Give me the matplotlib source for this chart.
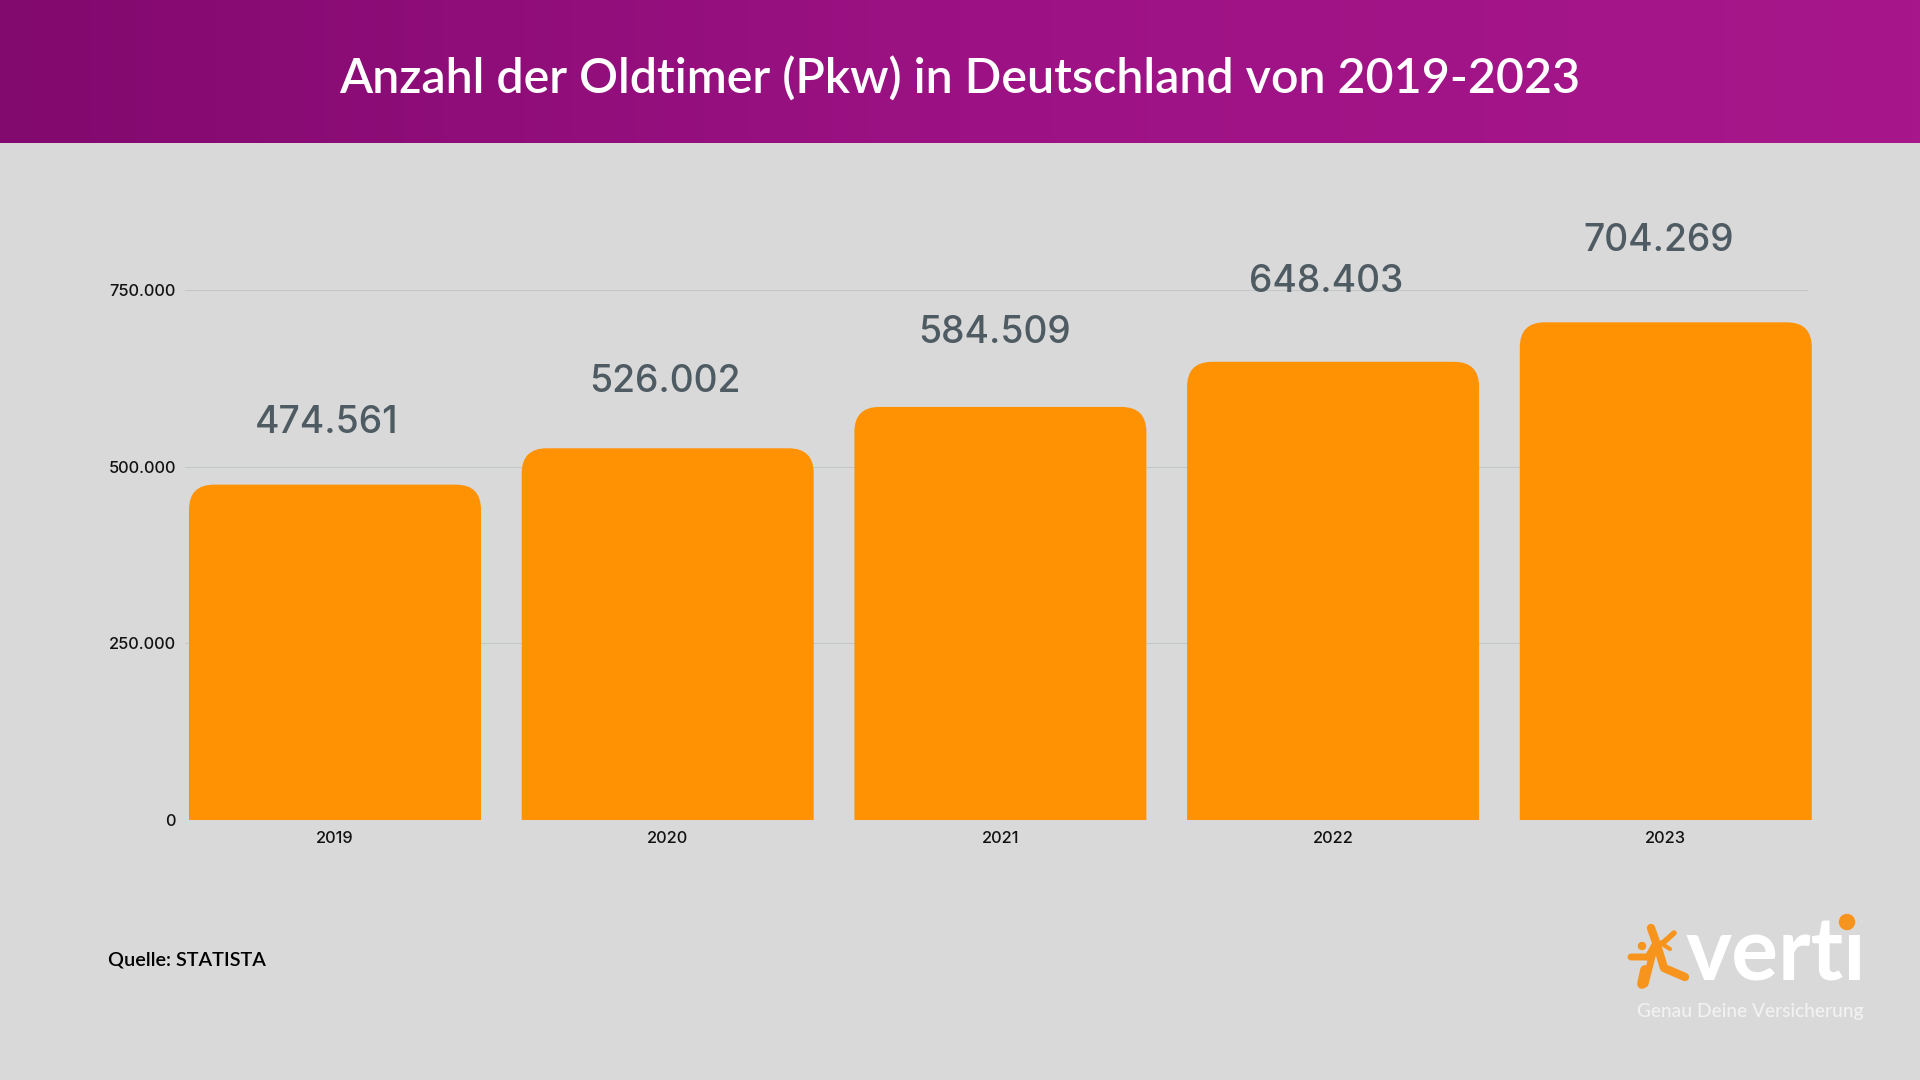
import matplotlib
matplotlib.use('Agg')
import matplotlib.pyplot as plt
import numpy as np
from matplotlib.colors import LinearSegmentedColormap
from matplotlib.patches import Circle, PathPatch, Rectangle
from matplotlib.path import Path

# daten
jahre = ['2019', '2020', '2021', '2022', '2023']
anzahl = [474561, 526002, 584509, 648403, 704269]
wert_labels = ['474.561', '526.002', '584.509', '648.403', '704.269']
y_ticks = [0, 250000, 500000, 750000]
y_tick_labels = ['0', '250.000', '500.000', '750.000']

titel = 'Anzahl der Oldtimer (Pkw) in Deutschland von 2019-2023'
quelle = 'Quelle: STATISTA'

# abstand der werte ueber den balken, in pixel (im original nicht einheitlich)
label_dy = [62, 66, 74, 80, 81]
label_dx = [-8, -3, -6, -7, -7]

GRAU = '#d9d9d9'
ORANGE = '#ff9203'
LOGO_ORANGE = '#f7941d'

fig = plt.figure(figsize=(19.2, 10.8), dpi=100, facecolor=GRAU)

# hintergrund in pixelkoordinaten, fuer kopfzeile und logo
bg = fig.add_axes([0, 0, 1, 1])
bg.axis('off')

verlauf = LinearSegmentedColormap.from_list('kopf', ['#82096e', '#9c1284', '#a7178b'])
bg.imshow(np.linspace(0, 1, 256).reshape(1, -1), cmap=verlauf, aspect='auto',
          extent=[0, 1920, 143, 0])
bg.set_xlim(0, 1920)
bg.set_ylim(1080, 0)

bg.text(960, 79, titel, color='white', fontsize=34.8, fontweight='semibold',
        family='Lato', ha='center', va='center')
bg.text(108, 960, quelle, color='black', fontsize=14.3, family='Lato',
        fontweight='semibold', ha='left', va='center')

# diagramm
links, rechts, oben, unten = 185, 1808, 290, 820
ax = fig.add_axes([links / 1920, 1 - unten / 1080, (rechts - links) / 1920, (unten - oben) / 1080])
ax.patch.set_alpha(0)

x = np.arange(len(jahre))
breite = 292 / 332.7
ax.set_xlim((links - 335) / 332.7, (rechts - 335) / 332.7)
ax.set_ylim(0, 750000)

# balken oben abgerundet, radius ca. 25 pixel
rx = 25 / 332.7
ry = 25 * 750000 / (unten - oben)
for xi, wert in zip(x, anzahl):
    l = xi - breite / 2
    r = xi + breite / 2
    verts = [(l, 0), (l, wert - ry), (l, wert), (l + rx, wert), (r - rx, wert),
             (r, wert), (r, wert - ry), (r, 0), (l, 0)]
    codes = [Path.MOVETO, Path.LINETO, Path.CURVE3, Path.CURVE3, Path.LINETO,
             Path.CURVE3, Path.CURVE3, Path.LINETO, Path.CLOSEPOLY]
    ax.add_patch(PathPatch(Path(verts, codes), facecolor=ORANGE, edgecolor='none',
                           zorder=3, clip_on=False))

for xi, wert, txt, dx, dy in zip(x, anzahl, wert_labels, label_dx, label_dy):
    ax.annotate(txt, (xi, wert), xytext=(dx * 0.72, dy * 0.72), textcoords='offset points',
                ha='center', va='center', fontsize=26.8, color='#4f5b62',
                family='Inter', fontweight='medium', annotation_clip=False)

ax.set_yticks(y_ticks)
ax.set_yticklabels(y_tick_labels)
ax.set_xticks(x)
ax.set_xticklabels(jahre)
ax.tick_params(axis='both', length=0, labelsize=11.8, labelcolor='#111111')
ax.tick_params(axis='y', pad=6.5)
ax.tick_params(axis='x', pad=8)
for lab in ax.get_xticklabels() + ax.get_yticklabels():
    lab.set_family('Inter')
    lab.set_fontweight('medium')
ax.grid(axis='y', color='#c3c7c7', linewidth=0.8, zorder=1)
ax.set_axisbelow(True)
for s in ax.spines.values():
    s.set_visible(False)

# logo
top = fig.add_axes([0, 0, 1, 1], zorder=5)
top.set_xlim(0, 1920)
top.set_ylim(1080, 0)
top.axis('off')
for xs, ys, lw in [
    ([1631, 1648, 1655, 1645], [957, 957, 945, 984], 5),
    ([1651, 1657, 1664, 1685], [928, 945, 968, 977], 6),
    ([1657, 1664, 1674], [945, 942, 933], 4),
    ([1662, 1670], [944, 949], 3),
    ([1645, 1642], [970, 984], 7),
]:
    top.plot(xs, ys, color=LOGO_ORANGE, lw=lw, solid_capstyle='round', solid_joinstyle='round')
top.add_patch(Circle((1642, 946), 3.5, color=LOGO_ORANGE))
top.text(1686, 979, 'verti', color='white', fontsize=63, family='Lato', fontweight='bold',
         ha='left', va='baseline')
# punkt vom i abdecken, im logo sitzt dort der orange kreis
top.add_patch(Rectangle((1830, 908), 30, 23, color=GRAU, zorder=3))
top.add_patch(Circle((1847, 922), 7.5, color=LOGO_ORANGE, zorder=4))
top.text(1637, 1017, 'Genau Deine Versicherung', color='#f2f2f2', fontsize=13.75, family='Lato',
         fontweight='medium', ha='left', va='baseline')

fig.savefig('out.png', dpi=100, facecolor=GRAU)
